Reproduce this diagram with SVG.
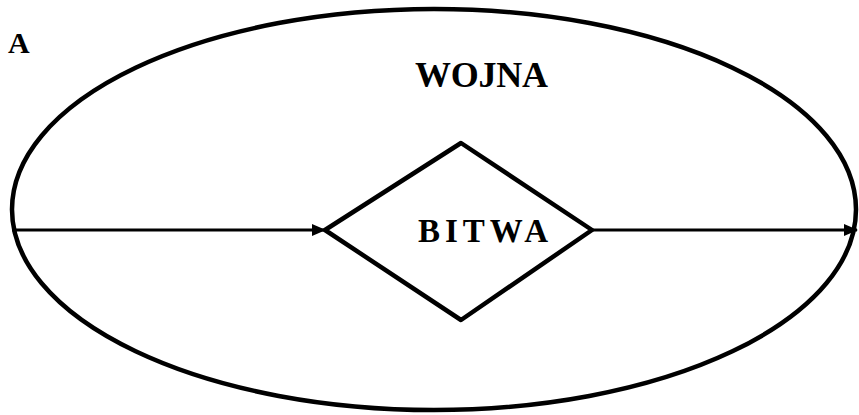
<svg xmlns="http://www.w3.org/2000/svg" width="859" height="415" viewBox="0 0 859 415">
  <style>
    .outline { fill: none; stroke: #000; stroke-width: 4.5; stroke-linejoin: round; }
    .edge { fill: none; stroke: #000; stroke-width: 3; }
    .label { font-family: "Liberation Serif", "Times New Roman", serif; fill: #000; }
  </style>
  <defs>
    <marker id="arrow" markerWidth="14" markerHeight="12" refX="13" refY="6" orient="auto" markerUnits="userSpaceOnUse">
      <path d="M0,0 L14,6 L0,12 Z" fill="#000"/>
    </marker>
  </defs>
  <rect width="859" height="415" fill="#fff"/>

  <text class="label" x="8" y="53" font-size="30" font-weight="bold">A</text>

  <g id="wojna">
    <ellipse class="outline" cx="434" cy="209.5" rx="422" ry="200.5"/>
    <text class="label" x="415" y="87" font-size="36" font-weight="bold" textLength="133" lengthAdjust="spacing">WOJNA</text>
  </g>

  <g id="bitwa">
    <polygon class="outline" points="325,230 461,143 592,230 461,320"/>
    <text class="label" x="418" y="242" font-size="33" font-weight="bold" textLength="130" lengthAdjust="spacing">BITWA</text>
  </g>

  <g id="connectors">
    <line class="edge" x1="12" y1="230" x2="325" y2="230" marker-end="url(#arrow)"/>
    <line class="edge" x1="592" y1="230" x2="857" y2="230" marker-end="url(#arrow)"/>
  </g>
</svg>
